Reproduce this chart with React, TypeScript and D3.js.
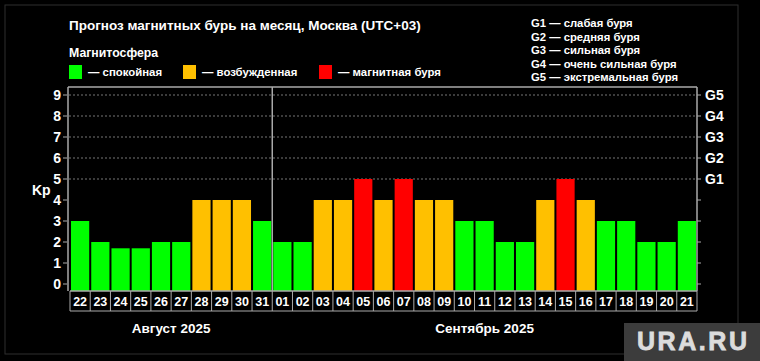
import React from "react";
import * as d3 from "d3";

const days = ["22","23","24","25","26","27","28","29","30","31","01","02","03","04","05","06","07","08","09","10","11","12","13","14","15","16","17","18","19","20","21"];
const kpValues = [3,2,1.7,1.7,2,2,4,4,4,3,2,2,4,4,5,4,5,4,4,3,3,2,2,4,5,4,3,3,2,2,3];
const leftTicks = [0,1,2,3,4,5,6,7,8,9];
const gLabels = ["G1","G2","G3","G4","G5"];
const gLegend = ["G1 — слабая буря","G2 — средняя буря","G3 — сильная буря","G4 — очень сильная буря","G5 — экстремальная буря"];
const stateLegend = [
  { label: "— спокойная", color: "#00ff00" },
  { label: "— возбужденная", color: "#ffc000" },
  { label: "— магнитная буря", color: "#ff0000" },
];
const months = [
  { label: "Август 2025", from: "22", to: "31" },
  { label: "Сентябрь 2025", from: "01", to: "21" },
];

const colorFor = (v: number) => (v >= 5 ? "#ff0000" : v >= 4 ? "#ffc000" : "#00ff00");

export default function App() {
  const W = 760, H = 361;
  const left = 70, right = 697, top = 87, bottom = 291;
  const x = d3.scaleBand<string>().domain(days).range([left, right]).paddingInner(0.1).paddingOuter(0.05);
  const step = x.step();
  const y = d3.scaleLinear().domain([0, 9]).range([284, 95]);
  const font = "'Liberation Sans', Arial, sans-serif";
  const legendX = [69, 183, 319];
  const boundaryX = (d: string) => (x(d) as number) - step * x.paddingInner() / 2;
  const divX = boundaryX("01");
  const boxTop = bottom, boxBottom = 311;

  return (
    <svg width={W} height={H} style={{ position: "absolute", left: 0, top: 0, background: "#000" }} fontFamily={font}>
      <rect x={0} y={0} width={W} height={H} fill="#000" />
      <rect x={5} y={5} width={733} height={349} fill="none" stroke="#2e2e2e" strokeWidth={1} />
      <text x={69} y={30} fill="#fff" fontSize={13.5} fontWeight="bold">Прогноз магнитных бурь на месяц, Москва (UTC+03)</text>
      <text x={69} y={57} fill="#fff" fontSize={12.3} fontWeight="bold">Магнитосфера</text>
      {stateLegend.map((s, i) => (
        <g key={s.label}>
          <rect x={legendX[i]} y={65} width={13} height={14} fill={s.color} />
          <text x={legendX[i] + 19} y={76} fill="#fff" fontSize={11.4} fontWeight="bold">{s.label}</text>
        </g>
      ))}
      {gLegend.map((t, i) => (
        <text key={t} x={531} y={27 + i * 13.6} fill="#fff" fontSize={11.3} fontWeight="bold">{t}</text>
      ))}
      {/* grid */}
      {[5,6,7,8,9].map(v => (
        <line key={v} x1={left - 1} x2={right} y1={y(v)} y2={y(v)} stroke="#777" strokeDasharray="2,2" strokeWidth={1} />
      ))}
      {/* bars */}
      {days.map((d, i) => (
        <rect key={d} x={x(d)} y={y(kpValues[i])} width={x.bandwidth()} height={y(0) - y(kpValues[i]) + 7} fill={colorFor(kpValues[i])} />
      ))}
      {/* frame */}
      <line x1={68} x2={right} y1={top} y2={top} stroke="#aaa" strokeWidth={1.5} />
      <line x1={68} x2={68} y1={top} y2={bottom} stroke="#aaa" strokeWidth={1.5} />
      <line x1={right} x2={right} y1={top} y2={bottom} stroke="#aaa" strokeWidth={1.5} />
      <line x1={divX} x2={divX} y1={top} y2={bottom} stroke="#aaa" strokeWidth={1.5} />
      {/* left ticks */}
      {leftTicks.map(v => (
        <g key={v}>
          <line x1={63} x2={67} y1={y(v)} y2={y(v)} stroke="#aaa" />
          <text x={61} y={y(v) + 5} fill="#fff" fontSize={14} fontWeight="bold" textAnchor="end">{v}</text>
        </g>
      ))}
      <text x={32} y={195} fill="#fff" fontSize={14} fontWeight="bold">Kp</text>
      {/* right ticks */}
      {leftTicks.map(v => (
        <line key={v} x1={right} x2={right + 4} y1={y(v)} y2={y(v)} stroke="#aaa" />
      ))}
      {gLabels.map((g, i) => (
        <text key={g} x={705} y={y(i + 5) + 5} fill="#fff" fontSize={14} fontWeight="bold">{g}</text>
      ))}
      {/* day label boxes */}
      <line x1={boundaryX(days[0])} x2={right} y1={boxTop} y2={boxTop} stroke="#aaa" strokeWidth={1.5} />
      <line x1={boundaryX(days[0])} x2={right} y1={boxBottom} y2={boxBottom} stroke="#aaa" strokeWidth={1} />
      {days.map(d => (
        <line key={"b" + d} x1={boundaryX(d)} x2={boundaryX(d)} y1={boxTop} y2={boxBottom} stroke="#aaa" strokeWidth={1} />
      ))}
      <line x1={right} x2={right} y1={boxTop} y2={boxBottom} stroke="#aaa" strokeWidth={1} />
      {days.map(d => (
        <text key={"t" + d} x={(x(d) as number) + x.bandwidth() / 2} y={306} fill="#fff" fontSize={12.5} fontWeight="bold" textAnchor="middle">{d}</text>
      ))}
      {months.map(m => {
        const cx = ((x(m.from) as number) + (x(m.to) as number) + x.bandwidth()) / 2;
        return <text key={m.label} x={cx} y={333} fill="#fff" fontSize={13.5} fontWeight="bold" textAnchor="middle">{m.label}</text>;
      })}
      {/* watermark */}
      <rect x={624} y={323} width={136} height={38} fill="#3c3c3c" />
      <text x={637} y={350} fill="#dcdcdc" fontSize={25} fontWeight="bold" textLength={110} stroke="#dcdcdc" strokeWidth={0.8}>URA.RU</text>
    </svg>
  );
}
